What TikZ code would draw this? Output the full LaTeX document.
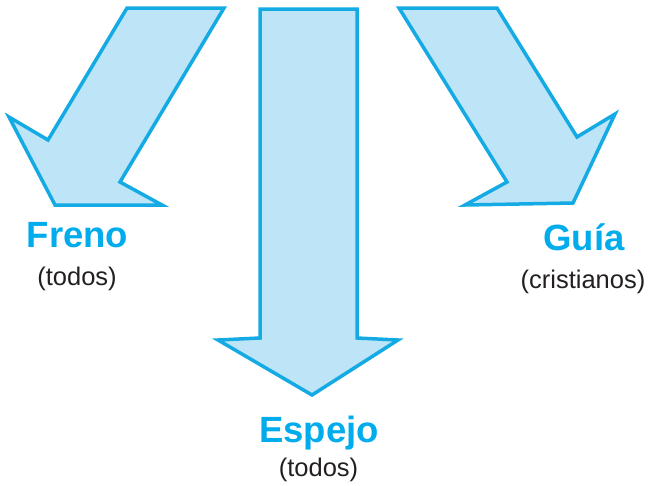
\documentclass[tikz,border=0pt]{standalone}
\usepackage{fontspec}
\setmainfont{Liberation Sans}
\definecolor{arrowfill}{RGB}{190,228,248}
\definecolor{arrowline}{RGB}{20,170,228}
\definecolor{titlecol}{RGB}{0,172,236}
\definecolor{subcol}{RGB}{35,31,32}
\tikzset{
  bigarrow/.style={fill=arrowfill, draw=arrowline, line width=3.5pt, line join=miter},
  titletext/.style={anchor=base, inner sep=0pt, text=titlecol, font=\fontsize{36.5}{42}\selectfont\bfseries},
  subtext/.style={anchor=base, inner sep=0pt, text=subcol, font=\fontsize{25.5}{30}\selectfont}
}
\begin{document}
\begin{tikzpicture}[x=1pt,y=-1pt]
\useasboundingbox (0,0) rectangle (650,485);
% left arrow
\draw[bigarrow] (127,8) -- (224,8) -- (120,182) -- (162,205) -- (55,205) -- (9,117) -- (48,140) -- cycle;
% center arrow
\draw[bigarrow] (260,9) -- (357,9) -- (357,338) -- (398,340) -- (312,395) -- (218,340) -- (260,338) -- cycle;
% right arrow
\draw[bigarrow] (399,8) -- (497,8) -- (577,137) -- (615,114) -- (573,203) -- (465,205) -- (507,182) -- cycle;
% labels
\node[titletext] (freno) at (77.5,247) {Freno};
\node[subtext] (frenosub) at (77,285) {(todos)};
\node[titletext] (guia) at (584,250) {Guía};
\node[subtext] (guiasub) at (583,288) {(cristianos)};
\node[titletext] (espejo) at (319,442) {Espejo};
\node[subtext] (espejosub) at (318.5,476) {(todos)};
\end{tikzpicture}
\end{document}
